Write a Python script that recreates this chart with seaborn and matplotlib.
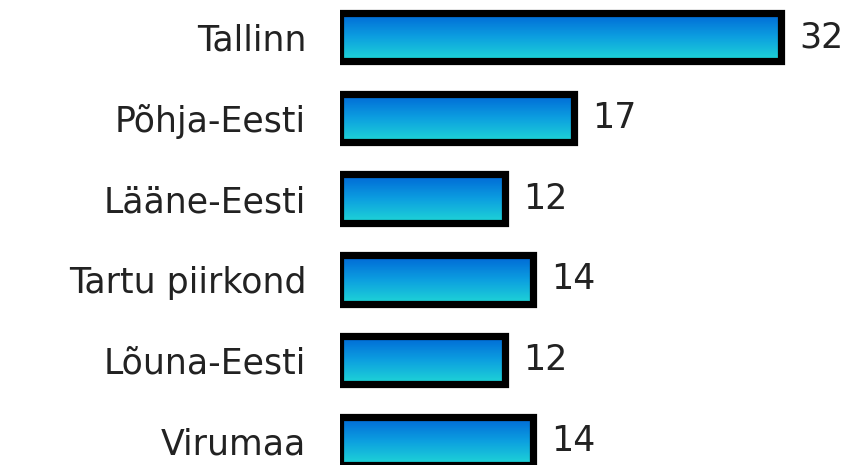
import numpy as np
import pandas as pd
import matplotlib
matplotlib.use('Agg')
import matplotlib.pyplot as plt
from matplotlib.colors import LinearSegmentedColormap
import seaborn as sns

# data
regions = ['Tallinn', 'Põhja-Eesti', 'Lääne-Eesti', 'Tartu piirkond', 'Lõuna-Eesti', 'Virumaa']
counts = [32, 17, 12, 14, 12, 14]

df = pd.DataFrame({'region': regions, 'count': counts})

sns.set_style('white')
plt.rcParams['font.family'] = ['DejaVu Sans']

W, H = 852, 465
fig = plt.figure(figsize=(W / 100, H / 100), dpi=100)
left_px = 339.5
ax = fig.add_axes([left_px / W, 0, 497 / W, 1])

sns.barplot(data=df, y='region', x='count', orient='h', width=0.6,
            color='white', ax=ax)

# gradient fill: dark blue on top, cyan at bottom
grad = LinearSegmentedColormap.from_list('bar', ['#0066d6', '#0c9ee0', '#1fd6d6'])
g = np.linspace(0, 1, 64).reshape(-1, 1)
for p in ax.patches:
    x0, y0 = p.get_x(), p.get_y()
    w, h = p.get_width(), p.get_height()
    im = ax.imshow(g, cmap=grad, aspect='auto', interpolation='bicubic',
                   extent=(x0, x0 + w, y0 + h, y0), zorder=2)
    im.set_clip_path(p)
    p.set_facecolor('none')
    p.set_edgecolor('black')
    p.set_linewidth(5.2)
    p.set_zorder(3)
    ax.annotate(str(int(w)), xy=(x0 + w, y0 + h / 2), xytext=(13, 0),
                textcoords='offset points', va='center', ha='left',
                fontsize=25, color='#222222')

ax.set_xlim(0, 36)
ax.set_ylim(5.297, -0.458)

ax.set_xlabel('')
ax.set_ylabel('')
ax.set_xticks([])
ax.tick_params(axis='y', length=0, pad=24, labelsize=25, labelcolor='#222222')
sns.despine(ax=ax, left=True, bottom=True)

fig.savefig('out.png', dpi=100)
